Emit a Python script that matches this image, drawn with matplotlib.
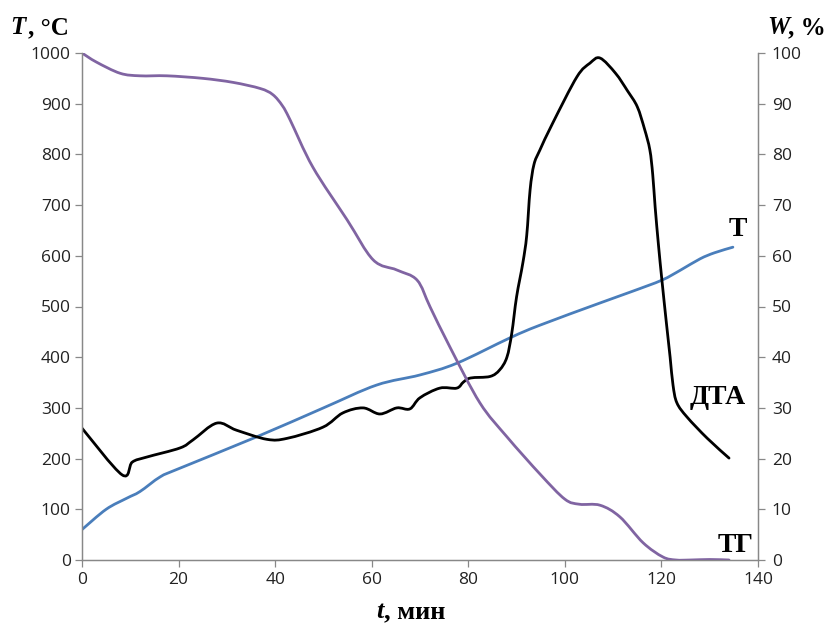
import numpy as np
import matplotlib
matplotlib.use("Agg")
import matplotlib.pyplot as plt
from matplotlib.path import Path
from matplotlib.patches import PathPatch

# ---- data ----
t_T = [0, 5, 9.3, 12, 16.2, 20, 36.2, 50, 61, 70, 77.6, 88.6, 94.8, 107.3, 114, 120.1, 124, 128, 131, 134.8]
temp_T = [60, 100, 122, 135, 164, 180, 243, 300, 345, 365, 388, 438, 463, 507, 530, 552, 572, 594, 606, 617]

t_dta = [0, 8.3, 10.4, 13.4, 20.3, 23, 27.9, 32, 38.3, 42.5, 49.9, 54, 58.2, 61.7, 65.2, 67.9,
         70, 74.1, 77.6, 79, 80.5, 84.5, 86.5, 88, 89, 90, 91.3, 92.1, 92.8, 93.6, 94.8, 97.5,
         102.5, 105.2, 107.3, 110.5, 113, 115, 116.5, 117.6, 118.2, 118.7, 119.4, 120.1, 121.0,
         121.8, 122.4, 123.2, 125.3, 129.5, 134]
dta = [260, 168, 193, 203, 221, 237, 270, 256, 238, 240, 262, 290, 300, 288, 300, 298,
       320, 339, 339, 351, 359, 362, 375, 400, 447, 519, 586, 640, 730, 780, 808, 862,
       953, 980, 990, 960, 925, 894, 850, 809, 760, 696, 620, 552, 470,
       400, 345, 310, 282, 240, 201]

t_tg = [0, 3, 7.9, 12, 17.6, 25, 31.3, 36.9, 39.5, 41.5, 43.1, 47.8, 54.9, 60.3, 65.2, 69.4, 72.1,
        76.2, 82.4, 88, 95, 100, 103, 107.3, 111.4, 116.2, 120.3, 123, 126, 130, 134]
tg = [100, 98.2, 96, 95.5, 95.5, 95, 94.2, 93, 91.8, 89.6, 86.8, 77.5, 67.1, 59.2, 57.2, 55.2, 49.9,
      42, 31, 24.3, 16.8, 12, 11, 10.8, 8.5, 3.4, 0.6, 0, 0, 0.1, 0]

left_ticks = list(range(0, 1001, 100))
right_ticks = list(range(0, 101, 10))
x_ticks = list(range(0, 141, 20))


def smooth_path(x, y):
    """Excel-like smoothed line as cubic Bezier path (Catmull-Rom control points)."""
    P = np.column_stack([x, y]).astype(float)
    n = len(P)
    verts = [P[0]]
    codes = [Path.MOVETO]
    for i in range(n - 1):
        p0 = P[i - 1] if i > 0 else P[i]
        p1 = P[i]
        p2 = P[i + 1]
        p3 = P[i + 2] if i + 2 < n else P[i + 1]
        c1 = p1 + (p2 - p0) / 6.0
        c2 = p2 - (p3 - p1) / 6.0
        verts += [c1, c2, p2]
        codes += [Path.CURVE4] * 3
    return Path(verts, codes)


fig = plt.figure(figsize=(8.29, 6.28), dpi=100)
ax = fig.add_axes([82 / 829, 68 / 628, 676 / 829, 507 / 628])
ax2 = ax.twinx()

grey = "#888888"

ax.set_xlim(0, 140)
ax.set_ylim(0, 1000)
ax2.set_ylim(0, 100)

for a in (ax, ax2):
    a.spines["top"].set_visible(False)
    for s in ("left", "right", "bottom"):
        a.spines[s].set_color(grey)
        a.spines[s].set_linewidth(0.9)
    a.set_facecolor("none")

ax.set_xticks(x_ticks)
ax.set_yticks(left_ticks)
ax2.set_yticks(right_ticks)
ax.tick_params(axis="both", colors=grey, length=5, width=0.9, labelcolor="#222222")
ax2.tick_params(axis="y", colors=grey, length=5, width=0.9, labelcolor="#222222")
ax.tick_params(axis="y", pad=3)
ax.tick_params(axis="x", pad=4)
ax2.tick_params(axis="y", pad=5)
for lab in ax.get_xticklabels() + ax.get_yticklabels() + ax2.get_yticklabels():
    lab.set_fontfamily("Open Sans")
    lab.set_fontsize(12.5)

lw = 2.0
ax.add_patch(PathPatch(smooth_path(t_T, temp_T), fill=False, edgecolor="#4A7EBB", lw=lw,
                       capstyle="round", joinstyle="round"))
ax.add_patch(PathPatch(smooth_path(t_dta, dta), fill=False, edgecolor="#000000", lw=lw,
                       capstyle="round", joinstyle="round"))
ax2.add_patch(PathPatch(smooth_path(t_tg, tg), fill=False, edgecolor="#8064A2", lw=lw,
                        capstyle="round", joinstyle="round"))

serif = "Liberation Serif"
fig.text(10 / 829, 1 - 28 / 628, "T", fontfamily=serif, fontweight="bold", fontstyle="italic",
         fontsize=18, va="center", ha="left")
fig.text(28 / 829, 1 - 28 / 628, ", °C", fontfamily=serif, fontweight="bold",
         fontsize=18, va="center", ha="left")
fig.text(767 / 829, 1 - 28 / 628, "W", fontfamily=serif, fontweight="bold", fontstyle="italic",
         fontsize=18, va="center", ha="left")
fig.text(788 / 829, 1 - 28 / 628, ", %", fontfamily=serif, fontweight="bold",
         fontsize=18, va="center", ha="left")
fig.text(376 / 829, 1 - 612 / 628, "t", fontfamily=serif, fontweight="bold", fontstyle="italic",
         fontsize=19, va="center", ha="left")
fig.text(384 / 829, 1 - 612 / 628, ", мин", fontfamily=serif, fontweight="bold",
         fontsize=19, va="center", ha="left")

fig.text(738 / 829, 1 - 230 / 628, "Т", fontfamily=serif, fontweight="bold",
         fontsize=20, va="center", ha="center")
fig.text(718 / 829, 1 - 398 / 628, "ДТА", fontfamily=serif, fontweight="bold",
         fontsize=20, va="center", ha="center")
fig.text(736 / 829, 1 - 545 / 628, "ТГ", fontfamily=serif, fontweight="bold",
         fontsize=20, va="center", ha="center")

fig.savefig("out.png", dpi=100, facecolor="white")
